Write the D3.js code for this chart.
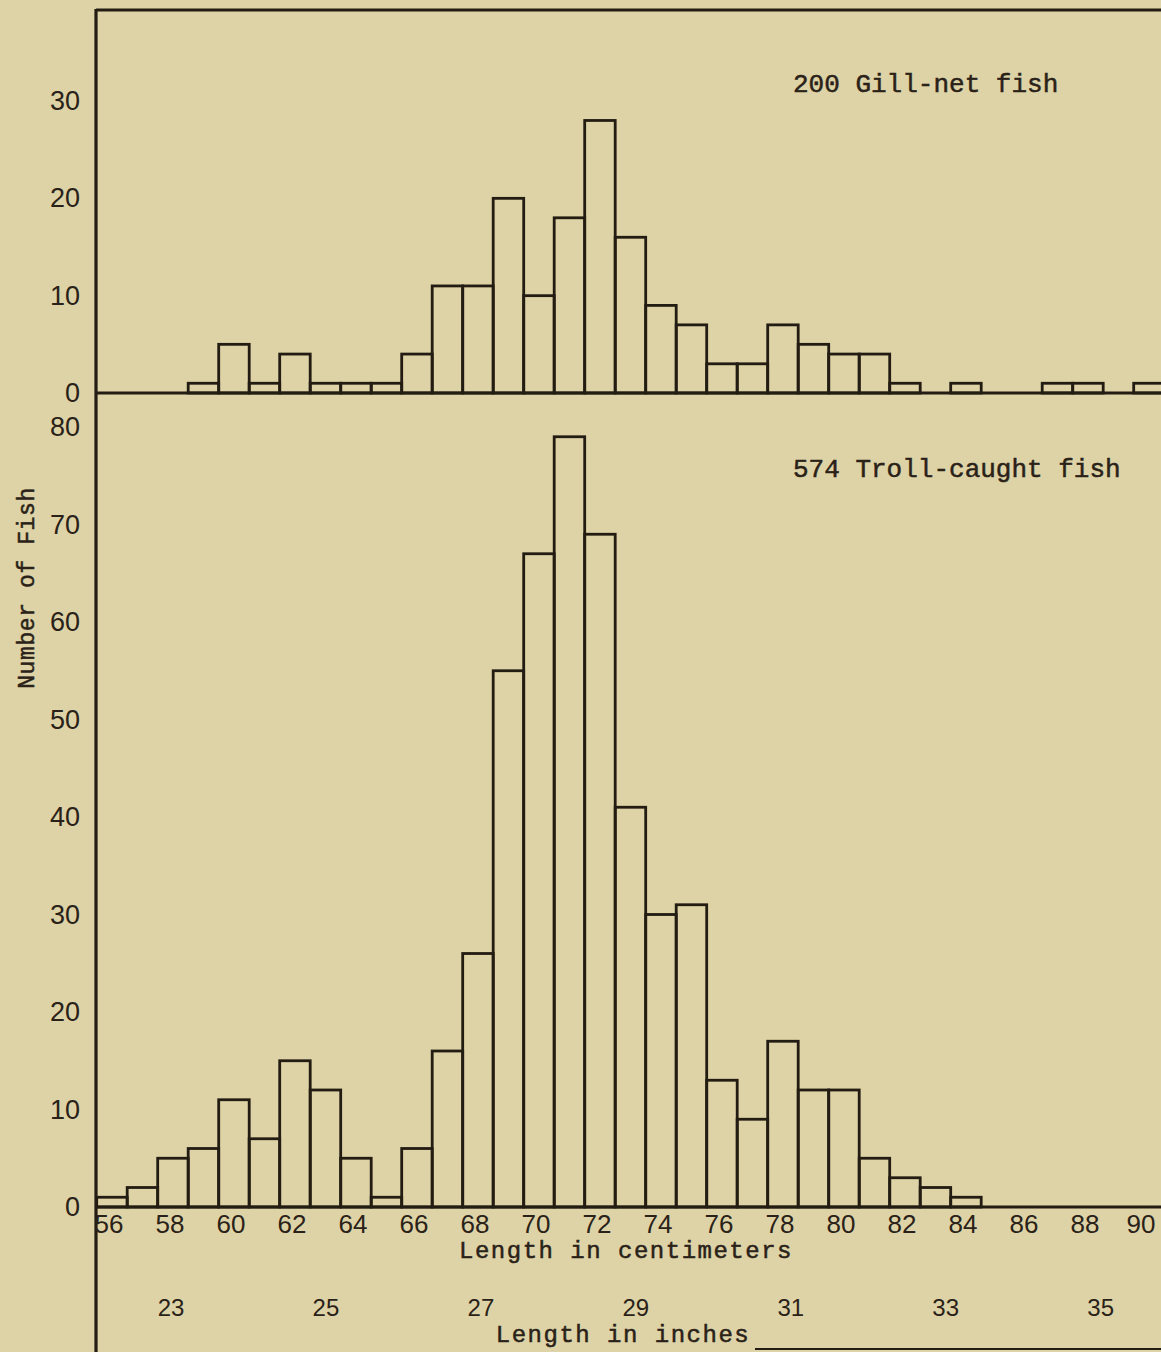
<html lang="en">
  <head>
    <meta charset="UTF-8" />
    <style>
      body {
        margin: 0;
        background-color: #ded3a6;
      }
      svg {
        display: block;
        background-color: #ded3a6;
      }
      .bar {
        fill: none;
        stroke: #231c12;
        stroke-width: 2.8;
      }
      .typed {
        font-family: "Liberation Mono", "DejaVu Sans Mono", monospace;
        fill: #2a2218;
        stroke: #2a2218;
        stroke-width: 0.5;
      }
      .tick text {
        font-family: "Liberation Sans", Arial, sans-serif;
        fill: #2a2218;
      }
    </style>
    <title>Length of fish</title>
  </head>
  <body>
    <script src="https://cdn.jsdelivr.net/npm/d3@7"></script>
    <script>
      // length classes (cm), one bar per class
      const lengthsCm = [56, 57, 58, 59, 60, 61, 62, 63, 64, 65, 66, 67, 68, 69, 70, 71, 72, 73,
        74, 75, 76, 77, 78, 79, 80, 81, 82, 83, 84, 85, 86, 87, 88, 89, 90];
      const gillNet = [0, 0, 0, 1, 5, 1, 4, 1, 1, 1, 4, 11, 11, 20, 10, 18, 28, 16,
        9, 7, 3, 3, 7, 5, 4, 4, 1, 0, 1, 0, 0, 1, 1, 0, 1];
      const troll = [1, 2, 5, 6, 11, 7, 15, 12, 5, 1, 6, 16, 26, 55, 67, 79, 69, 41,
        30, 31, 13, 9, 17, 12, 12, 5, 3, 2, 1, 0, 0, 0, 0, 0, 0];
      const cmTicks = [56, 58, 60, 62, 64, 66, 68, 70, 72, 74, 76, 78, 80, 82, 84, 86, 88, 90];
      const inchTicks = [23, 25, 27, 29, 31, 33, 35];
      const gillTicks = [0, 10, 20, 30];
      const trollTicks = [0, 10, 20, 30, 40, 50, 60, 70, 80];

      const width = 1161;
      const height = 1352;
      const left = 96;
      const ink = "#231c12";

      const svg = d3
        .select("body")
        .append("svg")
        .attr("width", width)
        .attr("height", height);

      const xBand = d3
        .scaleBand()
        .domain(lengthsCm)
        .range([96.7, 96.7 + lengthsCm.length * 30.5])
        .padding(0);
      const xLin = d3
        .scaleLinear()
        .domain([56, 91])
        .range([96.7, 96.7 + lengthsCm.length * 30.5]);

      const yTop = d3.scaleLinear().domain([0, 30]).range([393, 101]);
      const yBot = d3.scaleLinear().domain([0, 80]).range([1207, 427]);

      function drawBars(values, y, cls) {
        const data = lengthsCm
          .map((d, i) => ({ len: d, n: values[i] }))
          .filter(d => d.n > 0);
        svg
          .selectAll("rect." + cls)
          .data(data)
          .enter()
          .append("rect")
          .attr("class", "bar " + cls)
          .attr("x", d => xBand(d.len))
          .attr("y", d => y(d.n))
          .attr("width", xBand.bandwidth())
          .attr("height", d => y(0) - y(d.n));
      }
      drawBars(gillNet, yTop, "gill");
      drawBars(troll, yBot, "troll");

      // frame and base lines
      svg.append("line")
        .attr("x1", left).attr("x2", width)
        .attr("y1", 10).attr("y2", 10)
        .attr("stroke", ink).attr("stroke-width", 3);
      svg.append("line")
        .attr("x1", left).attr("x2", left)
        .attr("y1", 9).attr("y2", height)
        .attr("stroke", ink).attr("stroke-width", 3.2);
      svg.append("line")
        .attr("x1", left).attr("x2", width)
        .attr("y1", yTop(0)).attr("y2", yTop(0))
        .attr("stroke", ink).attr("stroke-width", 2.8);
      svg.append("line")
        .attr("x1", left).attr("x2", width)
        .attr("y1", yBot(0)).attr("y2", yBot(0))
        .attr("stroke", ink).attr("stroke-width", 2.8);
      svg.append("line")
        .attr("x1", 755).attr("x2", width)
        .attr("y1", 1349).attr("y2", 1349)
        .attr("stroke", ink).attr("stroke-width", 2);

      // y axes
      const yAxisTop = d3.axisLeft(yTop).tickValues(gillTicks).tickSize(0).tickPadding(16);
      const yAxisBot = d3.axisLeft(yBot).tickValues(trollTicks).tickSize(0).tickPadding(16);
      svg.append("g")
        .attr("transform", "translate(" + left + ",0)")
        .call(yAxisTop)
        .call(g => g.select(".domain").remove())
        .selectAll("text").style("font-size", "27px");
      svg.append("g")
        .attr("transform", "translate(" + left + ",0)")
        .call(yAxisBot)
        .call(g => g.select(".domain").remove())
        .selectAll("text").style("font-size", "27px");

      // x axes: centimetres under the bars, inches below
      const xAxisCm = d3.axisBottom(xBand).tickValues(cmTicks).tickSize(0).tickPadding(8);
      svg.append("g")
        .attr("transform", "translate(-3," + yBot(0) + ")")
        .call(xAxisCm)
        .call(g => g.select(".domain").remove())
        .selectAll("text")
        .style("font-size", "26px")
        .attr("dx", d => (d === 90 ? -5 : 0));

      const xAxisIn = d3
        .axisBottom(xLin)
        .tickValues(inchTicks.map(d => d * 2.54))
        .tickFormat(d => Math.round(d / 2.54))
        .tickSize(0)
        .tickPadding(3);
      svg.append("g")
        .attr("transform", "translate(0,1296)")
        .call(xAxisIn)
        .call(g => g.select(".domain").remove())
        .selectAll("text").style("font-size", "24px");

      // labels
      svg.append("text")
        .attr("class", "typed")
        .attr("x", 626).attr("y", 1258)
        .style("text-anchor", "middle")
        .style("font-size", "24px")
        .style("letter-spacing", "1.5px")
        .text("Length in centimeters");
      svg.append("text")
        .attr("class", "typed")
        .attr("x", 623).attr("y", 1342)
        .style("text-anchor", "middle")
        .style("font-size", "24px")
        .style("letter-spacing", "1.5px")
        .text("Length in inches");
      svg.append("text")
        .attr("class", "typed")
        .attr("transform", "translate(34,588) rotate(-90)")
        .style("text-anchor", "middle")
        .style("font-size", "23px")
        .style("letter-spacing", "0.6px")
        .text("Number of Fish");
      svg.append("text")
        .attr("class", "typed")
        .attr("x", 793).attr("y", 92)
        .style("font-size", "26px")
        .text("200 Gill-net fish");
      svg.append("text")
        .attr("class", "typed")
        .attr("x", 793).attr("y", 477)
        .style("font-size", "26px")
        .text("574 Troll-caught fish");
    </script>
  </body>
</html>
